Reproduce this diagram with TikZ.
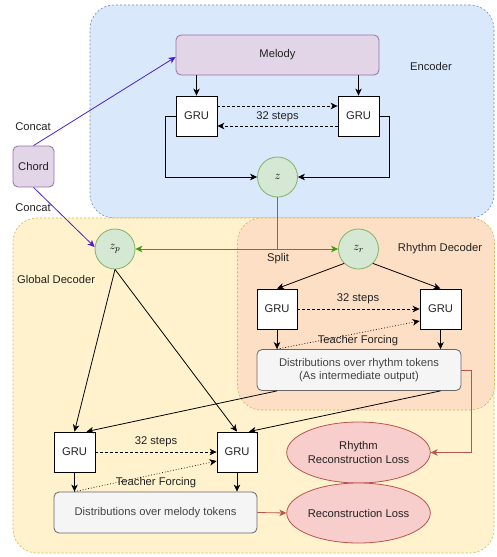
\documentclass[tikz,border=0pt]{standalone}
\usepackage{fontspec}
\setmainfont{Liberation Sans}
\usetikzlibrary{arrows.meta,shapes.geometric}
\definecolor{encfill}{HTML}{DAE8FC}
\definecolor{encdraw}{HTML}{6C8EBF}
\definecolor{globfill}{HTML}{FFF2CC}
\definecolor{globdraw}{HTML}{D6B656}
\definecolor{rhyfill}{HTML}{FCDFC4}
\definecolor{purfill}{HTML}{E1D5E7}
\definecolor{purdraw}{HTML}{9673A6}
\definecolor{grnfill}{HTML}{D5E8D4}
\definecolor{grndraw}{HTML}{82B366}
\definecolor{grnline}{HTML}{3F9A10}
\definecolor{gryfill}{HTML}{F5F5F5}
\definecolor{grydraw}{HTML}{666666}
\definecolor{redfill}{HTML}{F8CECC}
\definecolor{reddraw}{HTML}{B85450}
\definecolor{blueline}{HTML}{4B1FD0}
\definecolor{txt}{HTML}{222222}
\tikzset{
  bg/.style={draw, rounded corners=24pt, line width=0.6pt, dash pattern=on 2pt off 2pt},
  grubox/.style={draw, fill=white, line width=0.8pt, minimum width=41pt, minimum height=40pt, inner sep=0pt, text=txt},
  purbox/.style={draw=purdraw, fill=purfill, rounded corners=5pt, line width=0.8pt, inner sep=0pt, text=txt},
  latent/.style={circle, draw=grndraw, fill=grnfill, line width=0.8pt, minimum size=40pt, inner sep=0pt, font=\fontsize{13}{15}\selectfont},
  distbox/.style={draw=grydraw, fill=gryfill, rounded corners=5pt, line width=0.8pt, minimum width=204pt, minimum height=41pt, inner sep=0pt, align=center, text=txt!85},
  lossnode/.style={ellipse, draw=reddraw, fill=redfill, line width=0.8pt, minimum width=123pt, minimum height=61pt, inner sep=0pt, align=center, text=txt},
  lbl/.style={inner sep=0pt, text=txt},
  arr/.style={-{Stealth[length=7pt,width=6.5pt,inset=2pt]}, line width=0.8pt},
  dsharr/.style={arr, dash pattern=on 3pt off 2pt},
  dotarr/.style={arr, dotted, line width=0.7pt},
}
\begin{document}
\begin{tikzpicture}[x=1pt,y=-1pt, font=\fontsize{11.2}{13.2}\selectfont]
\useasboundingbox (0,0) rectangle (496,557);
% backgrounds
\node[bg, fill=encfill, draw=encdraw, minimum width=404pt, minimum height=213pt] (encbg) at (292,111.5) {};
\node[bg, fill=globfill, draw=globdraw, minimum width=481pt, minimum height=335pt] (globbg) at (253.5,385.5) {};
\node[bg, fill=rhyfill, draw=globdraw, minimum width=257pt, minimum height=192pt] (rhybg) at (366,314) {};
% encoder
\node[purbox, minimum width=203pt, minimum height=40pt] (melody) at (277.5,55) {Melody};
\node[grubox] (egl) at (196.5,116) {GRU};
\node[grubox] (egr) at (358.5,116) {GRU};
\node[latent] (z) at (277.5,177) {$z$};
\node[lbl] (enclbl) at (431,66) {Encoder};
\node[lbl] (esteps) at (277.5,117) {32 steps};
\draw[arr] (egl.north |- melody.south) -- (egl.north);
\draw[arr] (egr.north |- melody.south) -- (egr.north);
\draw[dsharr] ([yshift=10pt]egl.east) -- ([yshift=10pt]egr.west);
\draw[dsharr] ([yshift=-10pt]egr.west) -- ([yshift=-10pt]egl.east);
\draw[arr] (egl.west) -- (165,116) |- (z.west);
\draw[arr] (egr.east) -- (389,116) |- (z.east);
% latents
\node[latent] (zp) at (115,249) {$z_p$};
\node[latent] (zr) at (358.5,249) {$z_r$};
\draw[arr, grnline, line width=1pt] (z.south) |- (zp.east);
\draw[arr, grnline, line width=1pt] (z.south) |- (zr.west);
\node[lbl] (split) at (278,259) {Split};
\node[lbl, anchor=west] (glbl) at (17,279) {Global Decoder};
\node[lbl] (rlbl) at (440,249) {Rhythm Decoder};
% chord
\node[purbox, minimum width=41pt, minimum height=41pt] (chord) at (33.5,166.5) {Chord};
\node[lbl] (concat1) at (33,127) {Concat};
\node[lbl] (concat2) at (33,208) {Concat};
\draw[arr, blueline] (chord.north) -- ([yshift=-2pt]melody.west);
\draw[arr, blueline] (chord.south) -- ([yshift=2pt]zp.west);
% rhythm decoder
\node[grubox, minimum width=40pt] (rgl) at (277,309) {GRU};
\node[grubox] (rgr) at (440.5,309) {GRU};
\node[distbox] (rdist) at (359,370) {Distributions over rhythm tokens\\(As intermediate output)};
\node[lbl] (rsteps) at (358,299) {32 steps};
\node[lbl] (rtf) at (358,341) {Teacher Forcing};
\draw[arr] (zr.south west) -- (rgl.north);
\draw[arr] (zr.south east) -- (rgr.north);
\draw[dsharr] (rgl.east) -- (rgr.west);
\draw[dotarr] (rgl.south |- rdist.north) -- ([yshift=-12pt]rgr.west);
\draw[arr] (rgl.south) -- (rgl.south |- rdist.north);
\draw[arr] (rgr.south) -- (rgr.south |- rdist.north);
% losses
\node[lossnode] (rloss) at (358.5,452.5) {Rhythm\\Reconstruction Loss};
\node[lossnode, minimum height=60pt] (loss) at (358.5,513) {Reconstruction Loss};
\draw[arr, reddraw] (rdist.east) -- (471,370) |- (rloss.east);
% global decoder
\node[grubox] (ggl) at (74.5,452) {GRU};
\node[grubox, minimum width=40pt] (ggr) at (237,452) {GRU};
\node[distbox, minimum width=203pt] (mdist) at (155.5,512.5) {Distributions over melody tokens};
\node[lbl] (gsteps) at (156,442) {32 steps};
\node[lbl] (gtf) at (156,483) {Teacher Forcing};
\draw[arr] (zp.south) -- (ggl.north);
\draw[arr] (zp.south) -- (ggr.north);
\draw[arr] (rgl.south |- rdist.south) -- ([xshift=12pt]ggl.north);
\draw[arr] (rgr.south |- rdist.south) -- ([xshift=12pt]ggr.north);
\draw[dsharr] (ggl.east) -- (ggr.west);
\draw[dotarr] (ggl.south |- mdist.north) -- ([yshift=-9pt]ggr.west);
\draw[arr] (ggl.south) -- (ggl.south |- mdist.north);
\draw[arr] (ggr.south) -- (ggr.south |- mdist.north);
\draw[arr, reddraw] (mdist.east) -- (loss.west);
\end{tikzpicture}
\end{document}
